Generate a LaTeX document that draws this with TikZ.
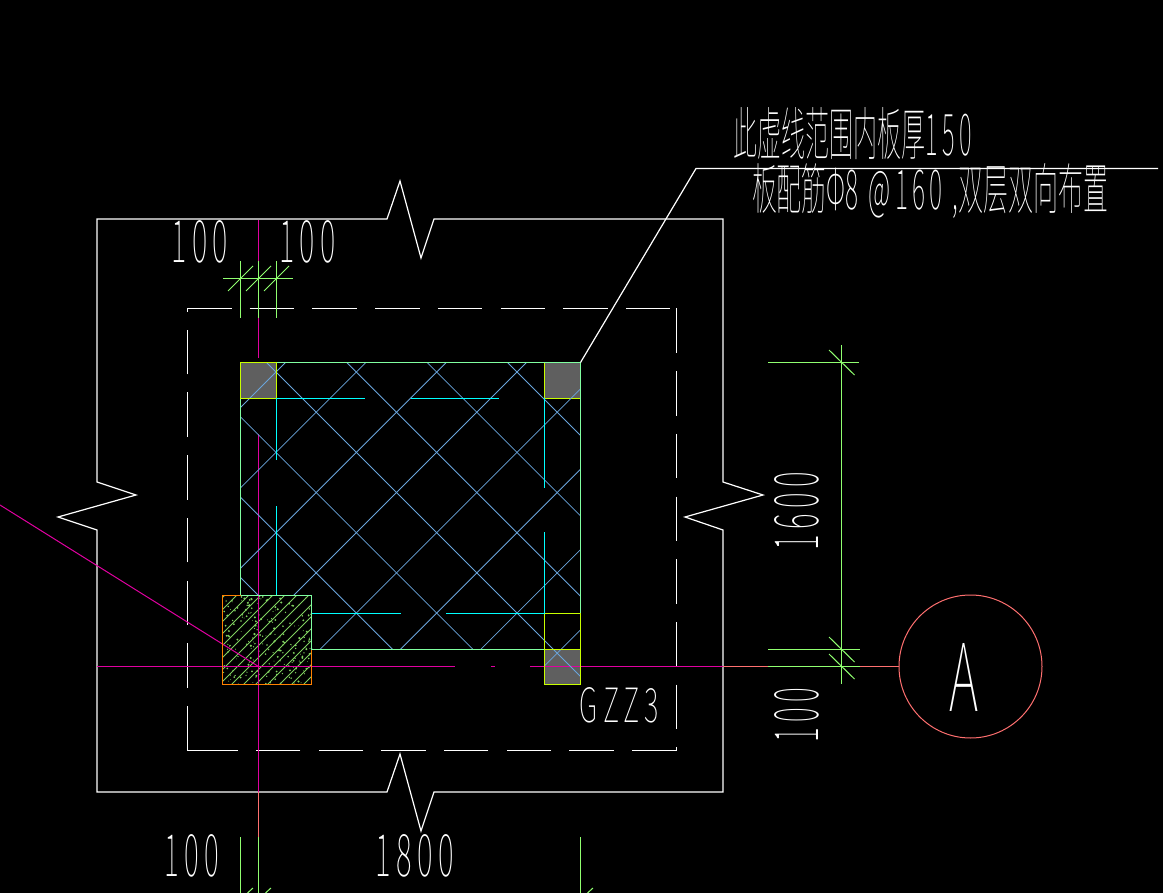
\documentclass[tikz,border=0pt]{standalone}
\usepackage{graphicx}
\usepackage{fontspec}
\setmainfont{Noto Sans CJK SC Thin}
\newfontfamily\cadnum[LetterSpace=18]{Noto Sans CJK SC Thin}
\usetikzlibrary{calc}
\definecolor{dimgreen}{HTML}{90FF70}
\definecolor{wallgreen}{HTML}{80FFA0}
\definecolor{colyellow}{HTML}{C8FF00}
\definecolor{colgray}{HTML}{5F5F5F}
\definecolor{rebarcyan}{HTML}{00FFFF}
\definecolor{meshblue}{HTML}{6AA5DC}
\definecolor{axismagenta}{HTML}{E000A0}
\definecolor{axisred}{HTML}{FF7070}
\definecolor{padorange}{HTML}{FF8000}
\definecolor{hatchgreen}{HTML}{80D060}
\newcommand{\cadtext}[3]{\resizebox{#1pt}{#2pt}{#3}}
\tikzset{
  outline/.style={draw=white, line width=1.2pt},
  dashline/.style={draw=white, line width=1.2pt, dash pattern=on 44.5pt off 18.2pt},
  dimline/.style={draw=dimgreen, line width=1pt},
  rebar/.style={draw=rebarcyan, line width=1pt},
  mesh/.style={draw=meshblue, line width=.8pt},
  axisline/.style={draw=axismagenta, line width=1pt},
  redline/.style={draw=axisred, line width=1pt},
  column/.style={draw=colyellow, line width=1pt, fill=colgray},
  label/.style={text=white, inner sep=0pt, outer sep=0pt}
}

\begin{document}
\begin{tikzpicture}[x=1pt, y=-1pt]
    \fill[black] (0,0) rectangle (1163,893);
    \useasboundingbox (0,0) rectangle (1163,893);

    \draw[outline] (97,482) -- (97,219) -- (387,219) -- (400,181) -- (421,258) -- (434,219)
        -- (723,219) -- (723,482) -- (763,495) -- (685,517) -- (723,530) -- (723,792)
        -- (434,792) -- (421,831) -- (400,754) -- (387,792) -- (97,792) -- (97,530)
        -- (58,517) -- (136,495) -- cycle;

    \draw[dashline] (187,308.5) -- (676.5,308.5);
    \draw[dashline] (676.5,308.5) -- (676.5,746);
    \draw[dashline] (676.5,750.5) -- (256,750.5);
    \draw[dashline] (187.5,750.5) -- (187.5,315);
    \draw[outline] (238,750.5) -- (187.5,750.5);
    \draw[outline] (187.5,308.5) -- (187.5,312);
    \draw[outline] (676.5,747) -- (676.5,750.5);

    \draw[axisline] (97,666.5) -- (455,666.5);
    \draw[axisline] (491,666.5) -- (495,666.5);
    \draw[axisline] (530,666.5) -- (723,666.5);
    \draw[axisline] (258.5,220) -- (258.5,262);
    \draw[axisline] (258.5,318) -- (258.5,358);
    \draw[axisline] (258.5,395) -- (258.5,398);
    \draw[axisline] (258.5,434) -- (258.5,792);
    \draw[redline] (258.5,792) -- (258.5,837);
    \draw[redline] (723,666.5) -- (768,666.5);
    \draw[redline] (860,666.5) -- (899,666.5);

    \draw[column] (240.5,362.5) rectangle (276.5,398.5);
    \draw[column] (544.5,362.5) rectangle (580.5,398.5);
    \fill[colgray] (544.5,649.5) rectangle (580.5,684.5);
    \draw[axisline] (544,666.5) -- (580,666.5);

    \begin{scope}
      \clip (240.5,362.5) rectangle (580.5,649.5) (544.5,613) rectangle (580.5,684.5);
      \foreach \s in {648,728.4,808.7,889,969.4,1049.7,1130.1,1210.4}
        \draw[mesh] (\s-200,200) -- (\s-700,700);
      \foreach \d in {-337,-256.7,-176.4,-96,-15.7,64.6,145}
        \draw[mesh] (\d+200,200) -- (\d+700,700);
    \end{scope}

    \draw[draw=wallgreen, line width=1pt] (240.5,595) -- (240.5,362.5) -- (580.5,362.5) -- (580.5,613);
    \draw[draw=wallgreen, line width=1pt] (311,649.5) -- (544.5,649.5);
    \draw[draw=colyellow, line width=1pt] (240.5,398.5) -- (240.5,362.5) -- (276.5,362.5) -- (276.5,398.5) -- cycle;
    \draw[draw=colyellow, line width=1pt] (544.5,613.5) rectangle (580.5,684.5);
    \draw[draw=colyellow, line width=1pt] (544.5,649.5) -- (580.5,649.5);

    \draw[rebar] (276.5,398.5) -- (365,398.5);
    \draw[rebar] (411,398.5) -- (499,398.5);
    \draw[rebar] (276.5,398.5) -- (276.5,460);
    \draw[rebar] (276.5,506) -- (276.5,595);
    \draw[rebar] (311,613.5) -- (401,613.5);
    \draw[rebar] (446,613.5) -- (544.5,613.5);
    \draw[rebar] (544.5,398.5) -- (544.5,488);
    \draw[rebar] (544.5,532) -- (544.5,613.5);

    \fill[black] (222.5,595.5) rectangle (311.5,684.5);
    \begin{scope}
      \clip (222.5,595.5) rectangle (311.5,684.5);
      \foreach \s in {820,832,...,1000}
        \draw[draw=hatchgreen, line width=1pt] (\s-590,590) -- (\s-690,690);
      \pgfmathsetseed{23}
      \foreach \n in {1,...,220}
        \fill[hatchgreen] ({222+89*rnd},{595+89*rnd}) circle ({.4+.8*rnd});
    \end{scope}
    \draw[axisline] (0,505) -- (258.5,666.5);
    \draw[axisline] (222,666.5) -- (311.5,666.5);
    \draw[axisline] (258.5,595.5) -- (258.5,684.5);
    \draw[draw=padorange, line width=1pt] (240.5,595.5) -- (222.5,595.5) -- (222.5,684.5) -- (311.5,684.5) -- (311.5,649.5);
    \draw[draw=wallgreen, line width=1pt] (240.5,595.5) -- (311.5,595.5) -- (311.5,649.5);

    \draw[outline] (580.5,362.5) -- (696,168.5) -- (1158,168.5);

    \draw[dimline] (223,278.5) -- (293,278.5);
    \foreach \x in {240.5,258.5,276.5} {
      \draw[dimline] (\x,261) -- (\x,318);
      \draw[dimline] (\x-12.5,291) -- (\x+12.5,266);
    }
    \draw[dimline] (768,362.5) -- (859,362.5);
    \draw[dimline] (768,649.5) -- (860,649.5);
    \draw[dimline] (768,666.5) -- (860,666.5);
    \draw[dimline] (841.5,345) -- (841.5,684);
    \foreach \y in {362.5,649.5,666.5}
      \draw[dimline] (829,\y-12.5) -- (854.5,\y+12.5);
    \foreach \x in {240.5,258.5,580.5} {
      \draw[dimline] (\x,837) -- (\x,893);
      \draw[dimline] (\x+7,893) -- (\x+12.5,888);
    }

    \node[draw=axisred, line width=1pt, circle, minimum size=143pt, inner sep=0pt] (A) at (970.5,666.5) {};
    \node[label] (a-text) at (963.5,677) {\cadtext{29}{68}{A}};

    \node[label] (note1) at (853,134) {\cadtext{238}{48}{此虚线范围内板厚{\cadnum 150}}};
    \node[label] (note2) at (930,191) {\cadtext{356}{46}{板配筋Φ{\cadnum 8 @160 ,}双层双向布置}};
    \node[label] (gzz) at (619.5,705) {\cadtext{79}{35}{\cadnum GZZ3}};
    \node[label] (top-l) at (200,242) {\cadtext{56}{42}{\cadnum 100}};
    \node[label] (top-r) at (307.5,242) {\cadtext{56}{42}{\cadnum 100}};
    \node[label] (bot-l) at (192,856) {\cadtext{54}{42}{\cadnum 100}};
    \node[label] (bot-m) at (415,856) {\cadtext{78}{42}{\cadnum 1800}};
    \node[label, rotate=90] (right-a) at (797,511) {\cadtext{78}{44}{\cadnum 1600}};
    \node[label, rotate=90] (right-b) at (797,715) {\cadtext{54}{44}{\cadnum 100}};
  \end{tikzpicture}
\end{document}
